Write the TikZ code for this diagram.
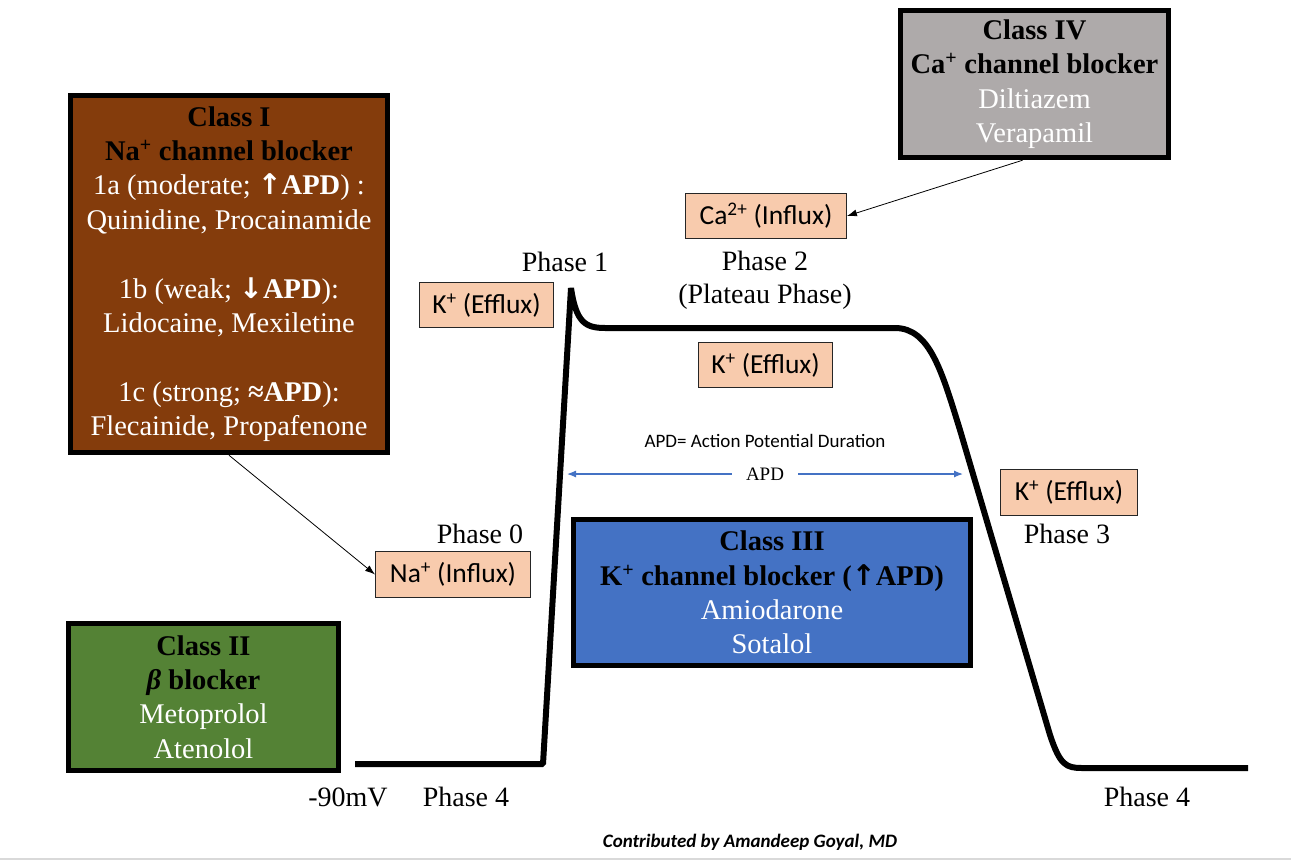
\documentclass[tikz,border=0pt]{standalone}
\usepackage{fontspec}
\setmainfont{Liberation Serif}
\newfontfamily\calibri{Carlito}
\newfontfamily\arrowfont{DejaVu Sans}
\usetikzlibrary{arrows.meta}
\definecolor{brownI}{HTML}{843C0C}
\definecolor{greenII}{HTML}{548235}
\definecolor{blueIII}{HTML}{4472C4}
\definecolor{greyIV}{HTML}{AEAAAA}
\definecolor{peach}{HTML}{F8CBAD}
\newcommand{\clsHead}[1]{\textcolor{black}{\bfseries #1}}
\newcommand{\upArr}{{\arrowfont\bfseries ↑}}
\newcommand{\downArr}{{\arrowfont\bfseries ↓}}

\begin{document}
\begin{tikzpicture}[x=1pt,y=-1pt,
  classbox/.style={draw=black,line width=5.5pt,align=center,inner sep=0pt,text=white,
    font=\fontsize{28.5}{34.4}\selectfont},
  ionbox/.style={draw=black!85,line width=0.9pt,fill=peach,inner sep=0pt,
    font=\calibri\fontsize{27.5}{30}\selectfont},
  phase/.style={font=\fontsize{28}{33}\selectfont,align=center,inner sep=0pt},
  thinarrow/.style={-{Latex[length=10pt,width=7pt]},line width=0.8pt}]
\useasboundingbox (0,0) rectangle (1291,862);

% the action potential
\draw[line width=6pt,line join=bevel] (355,764) -- (543,764) -- (571,288)
  .. controls (576,322) and (585,328) .. (605,328) -- (895,328)
  .. controls (930,328) and (942,372) .. (960,430) -- (1050,735)
  .. controls (1060,765) and (1066,768) .. (1082,768) -- (1248,768);

% drug classes
\node[classbox,fill=brownI,minimum width=317pt,minimum height=357pt] (cls1) at (229,274)
  {\clsHead{Class I}\\ \clsHead{Na\textsuperscript{+} channel blocker}\\
   1a (moderate; \upArr\textbf{APD}) :\\ Quinidine, Procainamide\\[34.4pt]
   1b (weak; \downArr\textbf{APD}):\\ Lidocaine, Mexiletine\\[34.4pt]
   1c (strong; \textbf{≈APD}):\\ Flecainide, Propafenone};
\node[classbox,fill=greenII,minimum width=270pt,minimum height=147pt] (cls2) at (203.5,697)
  {\clsHead{Class II}\\ \clsHead{\itshape β \upshape blocker}\\ Metoprolol\\ Atenolol};
\node[classbox,fill=blueIII,minimum width=397pt,minimum height=146pt] (cls3) at (772,592.5)
  {\clsHead{Class III}\\ \clsHead{K\textsuperscript{+} channel blocker (\upArr APD)}\\ Amiodarone\\ Sotalol};
\node[classbox,fill=greyIV,minimum width=268pt,minimum height=147pt] (cls4) at (1034.5,84)
  {\clsHead{Class IV}\\ \clsHead{Ca\textsuperscript{+} channel blocker}\\ Diltiazem\\ Verapamil};

% ion currents
\node[ionbox,minimum width=161pt,minimum height=45pt] (caIn) at (766,216) {Ca\textsuperscript{2+} (Influx)};
\node[ionbox,minimum width=134pt,minimum height=45pt] (kEffA) at (486.5,305) {K\textsuperscript{+} (Efflux)};
\node[ionbox,minimum width=134pt,minimum height=45pt] (kEffB) at (765.5,365) {K\textsuperscript{+} (Efflux)};
\node[ionbox,minimum width=137pt,minimum height=46pt] (kEffC) at (1069,492.5) {K\textsuperscript{+} (Efflux)};
\node[ionbox,minimum width=155pt,minimum height=46pt] (naIn) at (453,574.5) {Na\textsuperscript{+} (Influx)};

% phases
\node[phase] (ph0) at (480,534) {Phase 0};
\node[phase] (ph1) at (565,262) {Phase 1};
\node[phase] (ph2) at (765,280) {Phase 2\\(Plateau Phase)};
\node[phase] (ph3) at (1067,534) {Phase 3};
\node[phase] (ph4a) at (466,797) {Phase 4};
\node[phase] (ph4b) at (1147,797) {Phase 4};
\node[phase] (rest) at (348,797) {-90mV};

% APD
\node[font=\calibri\fontsize{19}{22}\selectfont] (apdText) at (765,441) {APD= Action Potential Duration};
\coordinate (apdL) at (567,474);
\coordinate (apdR) at (963,474);
\draw[blueIII,line width=1.2pt,{Latex[length=9pt,width=7pt]}-{Latex[length=9pt,width=7pt]}] (apdL) -- (apdR);
\node[fill=white,inner xsep=14pt,inner ysep=2pt,font=\fontsize{19}{22}\selectfont] (apd) at (765,474) {APD};

\draw[thinarrow] (cls1.south) -- (naIn.west);
\draw[thinarrow] ([xshift=-12pt]cls4.south) -- (caIn.east);

\node[font=\calibri\bfseries\itshape\fontsize{19}{22}\selectfont] (credit) at (750,842) {Contributed by Amandeep Goyal, MD};
\draw[black!15,line width=1.5pt] (0,859) -- (1291,859);
\end{tikzpicture}
\end{document}
